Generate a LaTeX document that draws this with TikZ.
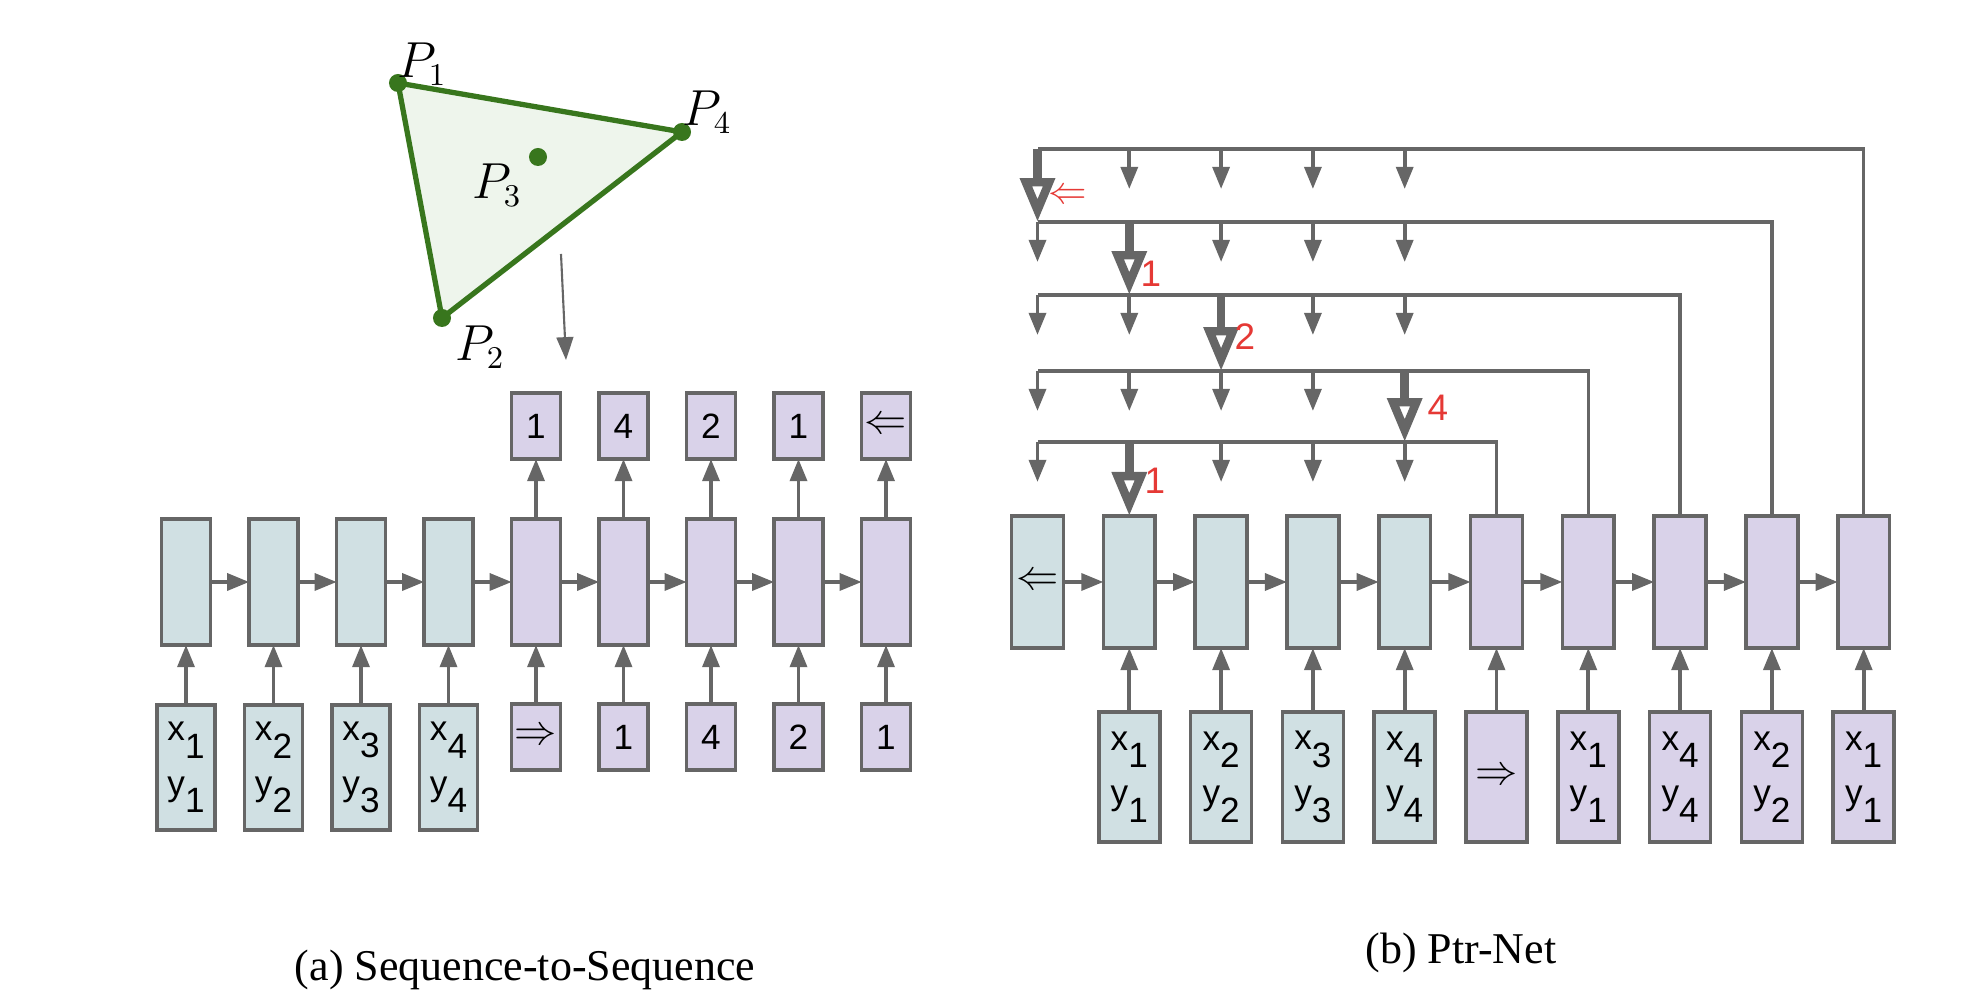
\documentclass[tikz,border=0pt]{standalone}
\usepackage{fontspec}
\setmainfont{Liberation Serif}
\setsansfont{Liberation Sans}
\usetikzlibrary{arrows.meta,calc}

\definecolor{gry}{HTML}{666666}
\definecolor{encfill}{HTML}{D0E0E3}
\definecolor{decfill}{HTML}{D9D2E9}
\definecolor{hull}{HTML}{38761D}
\definecolor{hullfill}{HTML}{EEF5EC}
\definecolor{ptrred}{HTML}{E53935}

\newcommand{\lo}[1]{\raisebox{-0.5em}{#1}}

\tikzset{
  cell/.style={draw=gry, line width=1pt, inner sep=0pt, outer sep=0pt,
    font=\sffamily\fontsize{10}{15.6}\selectfont, align=center},
  encbox/.style={cell, fill=encfill},
  decbox/.style={cell, fill=decfill},
  arr/.style={draw=gry, line width=1.1pt, -{Triangle[length=6.3pt,width=4.8pt]}},
  bigarr/.style={draw=gry, line width=2.4pt, -{Triangle[open,length=12.5pt,width=9.5pt]}},
  wire/.style={draw=gry, line width=1pt},
  ptrlab/.style={text=ptrred, inner sep=0pt, font=\sffamily\fontsize{10.5}{12}\selectfont},
  plab/.style={inner sep=0pt, font=\fontsize{13.5}{15}\selectfont},
  caption/.style={inner sep=0pt, font=\fontsize{12.5}{15}\selectfont}
}

\begin{document}
\begin{tikzpicture}[x=0.01cm, y=-0.01cm]
		\useasboundingbox (0,0) rectangle (1968,998);

		%%%%% convex hull %%%%%
		\coordinate (P1) at (398,83);
		\coordinate (P2) at (442,318);
		\coordinate (P3) at (538,157);
		\coordinate (P4) at (682,132);
		\draw[hull, line width=1.5pt, fill=hullfill, line join=round] (P1) -- (P4) -- (P2) -- cycle;
		\foreach \p in {P1,P2,P3,P4}
			\fill[hull] (\p) circle[radius=0.09cm];
		\node[plab] (lp1) at (422,64) {$P_1$};
		\node[plab] (lp2) at (480,347) {$P_2$};
		\node[plab] (lp3) at (497,185) {$P_3$};
		\node[plab] (lp4) at (707,112) {$P_4$};
		\coordinate (down0) at (561,254);
		\coordinate (down1) at (566,360);
		\draw[draw=gry, line width=0.6pt, -{Triangle[length=6.5pt,width=4.8pt]}] (down0) -- (down1);

		%%%%% (a) sequence-to-sequence %%%%%
		\foreach \i in {1,...,4} {
			\node[encbox, minimum width=0.485cm, minimum height=1.26cm] (sh\i) at ({186+87.5*(\i-1)},582) {};
			\node[encbox, minimum width=0.577cm, minimum height=1.25cm] (sin\i) at ({186+87.5*(\i-1)},767.5) {x\lo{\i}\\y\lo{\i}};
		}
		\foreach \i/\a/\b in {5/{\fontsize{12.5}{13}\selectfont$\Rightarrow$}/1, 6/1/4, 7/4/2, 8/2/1, 9/1/{\fontsize{12.5}{13}\selectfont$\Leftarrow$}} {
			\node[decbox, minimum width=0.485cm, minimum height=1.26cm] (sh\i) at ({186+87.5*(\i-1)},582) {};
			\node[decbox, minimum width=0.485cm, minimum height=0.66cm] (sin\i) at ({186+87.5*(\i-1)},737) {\a};
			\node[decbox, minimum width=0.485cm, minimum height=0.66cm] (sout\i) at ({186+87.5*(\i-1)},426) {\b};
			\draw[arr] (sh\i.north) -- (sout\i.south);
		}
		\foreach \i [count=\j from 2] in {1,...,8}
			\draw[arr] (sh\i.east) -- (sh\j.west);
		\foreach \i in {1,...,9}
			\draw[arr] (sin\i.north) -- (sh\i.south);

		\node[caption] (capa) at (525,970) {(a) Sequence-to-Sequence};

		%%%%% (b) ptr-net %%%%%
		\node[encbox, minimum width=0.517cm, minimum height=1.32cm] (ph1) at (1037.5,582) {\fontsize{13}{13}\selectfont$\Leftarrow$};
		\foreach \i in {2,...,5} {
			\node[encbox, minimum width=0.517cm, minimum height=1.32cm] (ph\i) at ({1037.5+91.8*(\i-1)},582) {};
			\node[encbox, minimum width=0.61cm, minimum height=1.3cm] (pin\i) at ({1037.5+91.8*(\i-1)},777) {x\lo{\the\numexpr\i-1\relax}\\y\lo{\the\numexpr\i-1\relax}};
		}
		\node[decbox, minimum width=0.517cm, minimum height=1.32cm] (ph6) at (1496.5,582) {};
		\node[decbox, minimum width=0.61cm, minimum height=1.3cm] (pin6) at (1496.5,777) {\fontsize{13}{13}\selectfont$\Rightarrow$};
		\foreach \i/\k in {7/1, 8/4, 9/2, 10/1} {
			\node[decbox, minimum width=0.517cm, minimum height=1.32cm] (ph\i) at ({1037.5+91.8*(\i-1)},582) {};
			\node[decbox, minimum width=0.61cm, minimum height=1.3cm] (pin\i) at ({1037.5+91.8*(\i-1)},777) {x\lo{\k}\\y\lo{\k}};
		}
		\foreach \i [count=\j from 2] in {1,...,9}
			\draw[arr] (ph\i.east) -- (ph\j.west);
		\foreach \i in {2,...,10}
			\draw[arr] (pin\i.north) -- (ph\i.south);

		% pointer rows
		\foreach \r/\d/\y in {1/10/149, 2/9/222, 3/8/295, 4/7/371, 5/6/442} {
			\coordinate (row\r) at (0,\y);
			\draw[wire] (ph\d.north) |- (ph1 |- row\r);
		}
		\foreach \j in {2,...,5} \draw[arr] (ph\j |- row1) -- ++(0,40);
		\draw[bigarr] (ph1 |- row1) -- (ph1 |- row2);
		\foreach \j in {1,3,4,5} \draw[arr] (ph\j |- row2) -- ++(0,40);
		\draw[bigarr] (ph2 |- row2) -- (ph2 |- row3);
		\foreach \j in {1,2,4,5} \draw[arr] (ph\j |- row3) -- ++(0,40);
		\draw[bigarr] (ph3 |- row3) -- (ph3 |- row4);
		\foreach \j in {1,...,4} \draw[arr] (ph\j |- row4) -- ++(0,40);
		\draw[bigarr] (ph5 |- row4) -- (ph5 |- row5);
		\foreach \j in {1,3,4,5} \draw[arr] (ph\j |- row5) -- ++(0,40);
		\draw[bigarr] (ph2 |- row5) -- (ph2.north);

		\node[ptrlab] (pl1) at (1068,196) {\fontsize{11}{12}\selectfont$\Leftarrow$};
		\node[ptrlab] (pl2) at (1151,274) {1};
		\node[ptrlab] (pl3) at (1245,337) {2};
		\node[ptrlab] (pl4) at (1438,408) {4};
		\node[ptrlab] (pl5) at (1155,481) {1};

		\node[caption] (capb) at (1461,953) {(b) Ptr-Net};
	\end{tikzpicture}
\end{document}
